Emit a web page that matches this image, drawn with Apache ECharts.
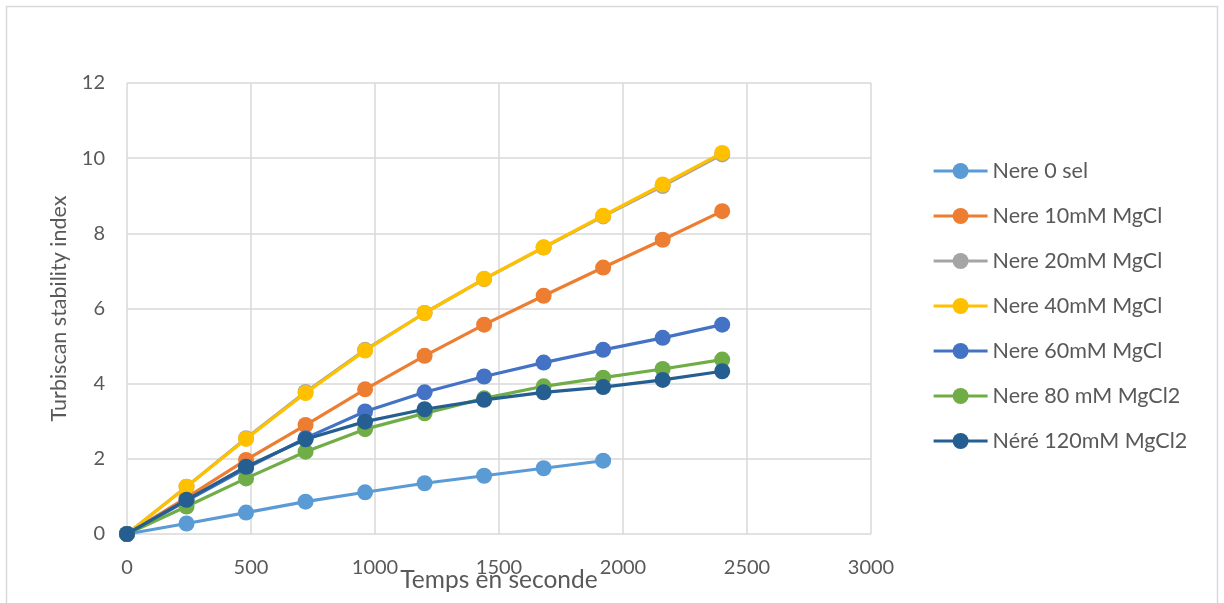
<!DOCTYPE html>
<html><head><meta charset="utf-8">
<script src="https://cdn.jsdelivr.net/npm/echarts@6/dist/echarts.min.js"></script>
<style>html,body{margin:0;padding:0;background:#fff}#c{width:1224px;height:603px}</style>
</head><body><div id="c"></div>
<script>
const times = [0, 240, 480, 720, 960, 1200, 1440, 1680, 1920, 2160, 2400];
const seriesNames = ["Nere 0 sel", "Nere 10mM MgCl", "Nere 20mM MgCl", "Nere 40mM MgCl", "Nere 60mM MgCl", "Nere 80 mM MgCl2", "Néré 120mM MgCl2"];
const nere0 = [0, 0.28, 0.57, 0.86, 1.11, 1.35, 1.55, 1.75, 1.95];
const nere10 = [0, 0.97, 1.97, 2.90, 3.85, 4.74, 5.57, 6.34, 7.09, 7.83, 8.59];
const nere20 = [0, 1.26, 2.55, 3.78, 4.90, 5.88, 6.78, 7.62, 8.45, 9.26, 10.10];
const nere40 = [0, 1.26, 2.53, 3.75, 4.88, 5.88, 6.79, 7.63, 8.47, 9.30, 10.14];
const nere60 = [0, 0.88, 1.75, 2.55, 3.26, 3.77, 4.19, 4.56, 4.90, 5.22, 5.57];
const nere80 = [0, 0.73, 1.48, 2.19, 2.79, 3.21, 3.61, 3.93, 4.16, 4.39, 4.64];
const nere120 = [0, 0.91, 1.79, 2.52, 2.99, 3.32, 3.57, 3.77, 3.91, 4.10, 4.33];
const yTicks = [0, 2, 4, 6, 8, 10, 12];
const xTicks = [0, 500, 1000, 1500, 2000, 2500, 3000];

const colors = ["#5B9BD5", "#ED7D31", "#A5A5A5", "#FFC000", "#4472C4", "#70AD47", "#255E91"];
const allData = [nere0, nere10, nere20, nere40, nere60, nere80, nere120];
const FONT = "Lato, 'Open Sans', sans-serif";

const chart = echarts.init(document.getElementById('c'), null, {renderer: 'canvas'});
chart.setOption({
  animation: false,
  backgroundColor: '#fff',
  color: colors,
  graphic: [{
    type: 'rect', shape: {x: 6.5, y: 6.5, width: 1211, height: 620},
    style: {fill: 'none', stroke: '#D9D9D9', lineWidth: 1.5}, silent: true
  }],
  grid: {left: 127, top: 83, width: 744, height: 451, outerBoundsMode: 'none', containLabel: false},
  legend: {
    orient: 'vertical', left: 927, top: 155, itemGap: 23,
    itemWidth: 54, itemHeight: 20,
    lineStyle: {width: 3.2},
    textStyle: {fontFamily: FONT, fontSize: 21.5, color: '#595959'},
    data: seriesNames.map(n => ({name: n}))
  },
  xAxis: {
    type: 'value', min: xTicks[0], max: xTicks[xTicks.length - 1], interval: 500,
    name: 'Temps en seconde', nameLocation: 'middle', nameGap: 46, nameMoveOverlap: false,
    nameTextStyle: {fontFamily: FONT, fontSize: 24.5, color: '#595959', verticalAlign: 'middle'},
    axisLine: {show: false}, axisTick: {show: false},
    axisLabel: {fontFamily: FONT, fontSize: 20, color: '#595959', margin: 24, formatter: v => String(v)},
    splitLine: {show: true, lineStyle: {color: '#D9D9D9', width: 1.5}}
  },
  yAxis: {
    type: 'value', min: yTicks[0], max: yTicks[yTicks.length - 1], interval: 2,
    name: 'Turbiscan stability index', nameLocation: 'middle', nameGap: 57,
    nameTextStyle: {fontFamily: FONT, fontSize: 21.5, color: '#595959'},
    axisLine: {show: false}, axisTick: {show: false},
    axisLabel: {fontFamily: FONT, fontSize: 20, color: '#595959', margin: 22, formatter: v => String(v)},
    splitLine: {show: true, lineStyle: {color: '#D9D9D9', width: 1.5}}
  },
  series: seriesNames.map((n, i) => ({
    name: n, type: 'line',
    data: allData[i].map((v, j) => [times[j], v]),
    symbol: 'circle', symbolSize: 16,
    lineStyle: {width: 3.2, color: colors[i]},
    itemStyle: {color: colors[i]},
    z: 2 + i
  }))
});
</script></body></html>
